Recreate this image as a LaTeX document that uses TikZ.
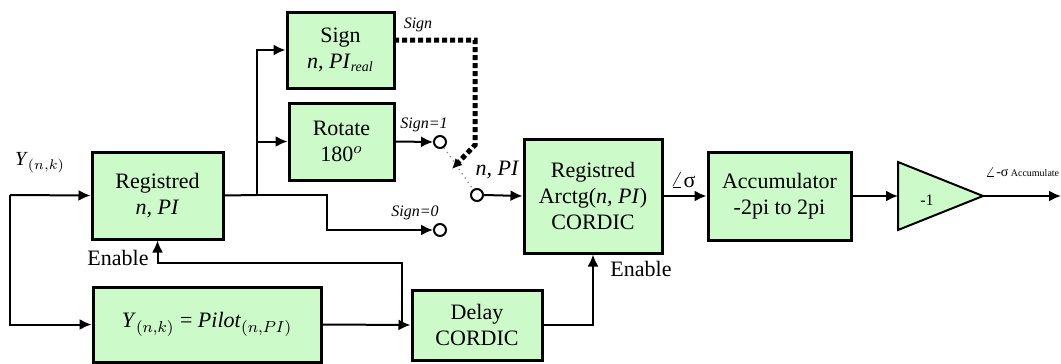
\documentclass[tikz,border=0pt]{standalone}
\usepackage{fontspec}
\setmainfont{Liberation Serif}
\usetikzlibrary{arrows.meta}
\definecolor{blkgreen}{RGB}{204,250,200}
\tikzset{
  blk/.style={draw, line width=1.5pt, fill=blkgreen, align=center, inner sep=1pt,
    font=\fontsize{11}{13}\selectfont},
  port/.style={draw, circle, line width=1pt, fill=white, inner sep=0pt, minimum size=6pt},
  lbl/.style={font=\fontsize{8}{9}\selectfont\itshape, inner sep=1pt},
}
\begin{document}
\begin{tikzpicture}[x=0.5pt, y=-0.5pt, line width=1pt, >={Latex[length=6pt,width=5.5pt]}]
\useasboundingbox (0,0) rectangle (1061,364);

% blocks
\node[blk, minimum width=65.5pt, minimum height=43.5pt] (reg) at (157.5,195.5) {Registred\\\textit{n, PI}};
\node[blk, minimum width=114pt, minimum height=37.5pt] (pilot) at (207,324.5) {\textit{Y}$_{(n,k)}$ = \textit{Pilot}$_{(n,PI)}$};
\node[blk, minimum width=53.5pt, minimum height=38pt] (sign) at (340.5,50) {Sign\\\textit{n, PI}$_{\textit{\scriptsize real}}$};
\node[blk, minimum width=52.5pt, minimum height=38.5pt] (rot) at (341.5,141.5) {Rotate\\180$^o$};
\node[blk, minimum width=65pt, minimum height=35pt] (delay) at (477,325) {Delay\\CORDIC};
\node[blk, minimum width=69pt, minimum height=57pt] (cordic) at (593,196) {Registred\\Arctg(\textit{n, PI})\\CORDIC};
\node[blk, minimum width=71.5pt, minimum height=44pt] (acc) at (779.5,196) {Accumulator\\-2pi to 2pi};

% gain -1
\coordinate (ampin) at (898,196);
\coordinate (ampout) at (983,196);
\draw[fill=blkgreen] (898,162) -- (ampout) -- (898,230) -- cycle;
\node[font=\fontsize{8}{9}\selectfont] (gain) at (927,200) {-1};

% switch ports
\node[port] (c1) at (440,142) {};
\node[port] (c0) at (440,230) {};
\node[port] (cout) at (477,195) {};

% helper points
\coordinate (yin) at (10,195);
\coordinate (split) at (257,195);
\coordinate (bend0) at (327,195);
\coordinate (fb) at (402,325);
\coordinate (fbtop) at (402,263);
\coordinate (sgnout) at (394,40);
\coordinate (sgnbend) at (475,40);
\coordinate (sgndown) at (475,145);
\coordinate (sgntip) at (452,169);
\coordinate (yout) at (1061,196);

% connectors
\draw[->] (yin) -- (reg.west);
\draw[->] (yin) |- (pilot.west);
\draw (reg.east) -- (split);
\draw[->] (split) |- (sign.west);
\draw[->] (split) |- (rot.west);
\draw[->] (split) -- (bend0) |- (c0.west);
\draw[->] (rot.east) -- (c1.west);
\draw[gray, line width=0.6pt, dotted] (c1) -- (cout);
\draw[-{Latex[length=5pt,width=5pt]}, line width=2.5pt, dash pattern=on 2.5pt off 1.5pt] (sgnout) -- (sgnbend) -- (sgndown) -- (sgntip);
\draw[->] (cout.east) -- (cordic.west);
\draw[->] (pilot.east) -- (delay.west);
\draw[->] (fb) -- (fbtop) -| (reg.south);
\draw[->] (delay.east) -| (cordic.south);
\draw[->] (cordic.east) -- (acc.west);
\draw[->] (acc.east) -- (ampin);
\draw[->] (ampout) -- (yout);

% labels
\node[font=\fontsize{10}{12}\selectfont] at (40,163) {\textit{Y}$_{(n,k)}$};
\node[lbl] at (418,25) {Sign};
\node[lbl] at (424,125) {Sign=1};
\node[lbl] at (415,213) {Sign=0};
\node[font=\fontsize{11}{13}\selectfont\itshape] at (497,170) {n, PI};
\node[font=\fontsize{11}{13}\selectfont] at (118,258) {Enable};
\node[font=\fontsize{11}{13}\selectfont] at (641,269) {Enable};
\node[font=\fontsize{11}{13}\selectfont] at (683,180) {$\angle$σ};
\node[font=\fontsize{7}{8}\selectfont] at (1022,172) {$\angle$-σ\,{\fontsize{5}{6}\selectfont Accumulate}};
\end{tikzpicture}
\end{document}
